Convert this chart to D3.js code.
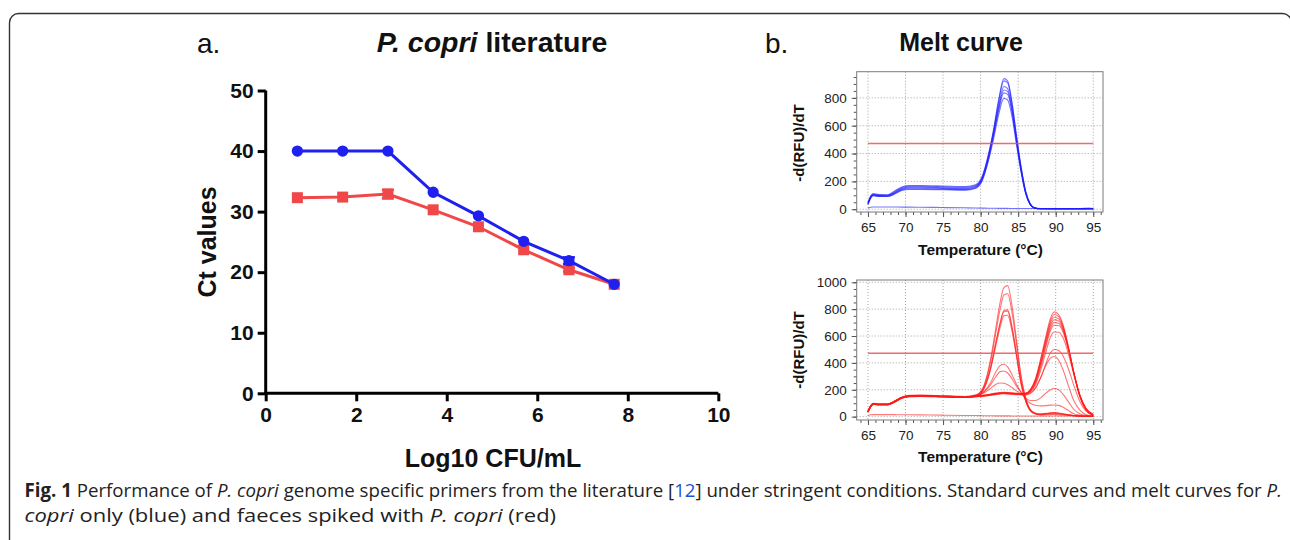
<!DOCTYPE html>
<html><head><meta charset="utf-8">
<script src="https://cdn.jsdelivr.net/npm/d3@7"></script>
<style>
html,body{margin:0;padding:0;background:#fff;}
svg{display:block;}
</style></head>
<body>
<svg id="chart" width="1290" height="540"></svg>
<script>
// ---------- Panel a data ----------
const logCFU = [0.7, 1.7, 2.7, 3.7, 4.7, 5.7, 6.7, 7.7];
const ctBlue = [40, 40, 40, 33.2, 29.3, 25.1, 21.9, 18.0];
const ctRed  = [32.3, 32.4, 32.9, 30.3, 27.5, 23.7, 20.4, 18.0];
const errBlue = [0, 0, 0, 0, 0, 0, 0.55, 0];
const errRed  = [0, 0, 0.7, 0, 0, 0, 0.3, 0];
const xTicksA = [0, 2, 4, 6, 8, 10];
const yTicksA = [0, 10, 20, 30, 40, 50];

// ---------- Panel b data (melt curves) ----------
const tempBlue = [65, 65.4, 65.7, 66.5, 67.6, 68.5, 69.5, 70.5, 72, 75, 78, 79.3, 80.2, 81, 81.7, 82.4, 83.1, 83.6, 84.2, 84.8, 85.4, 86, 86.6, 87.2, 88, 90, 93, 94.5, 95];
const meltBlue1 = [48, 98, 112, 105, 104, 130, 160, 170, 170, 167, 163, 175, 235, 385, 565, 785, 938, 922, 762, 522, 302, 132, 41, 10, 4, 3, 3, 4, 3];
const meltBlue2 = [44, 94, 108, 101, 100, 124, 154, 164, 164, 161, 157, 168, 228, 377, 557, 772, 922, 907, 752, 512, 297, 127, 39, 9, 4, 3, 3, 4, 3];
const meltBlue3 = [41, 91, 105, 98, 97, 118, 148, 158, 158, 155, 151, 163, 221, 366, 541, 742, 882, 867, 722, 497, 286, 121, 36, 9, 3, 3, 3, 3, 3];
const meltBlue4 = [38, 88, 102, 96, 95, 114, 143, 152, 152, 149, 146, 158, 215, 360, 530, 725, 857, 846, 706, 486, 280, 118, 35, 8, 3, 3, 3, 3, 3];
const meltBlue5 = [35, 85, 99, 93, 93, 110, 138, 147, 147, 144, 141, 153, 209, 349, 519, 709, 836, 825, 690, 475, 272, 115, 34, 8, 3, 2, 2, 3, 2];
const meltBlue6 = [33, 83, 97, 91, 91, 107, 134, 142, 142, 140, 137, 149, 203, 338, 498, 678, 796, 785, 660, 455, 262, 110, 32, 8, 3, 2, 2, 3, 2];
const meltBlueNTC = [8, 14, 16, 16, 16, 16, 15, 15, 14, 12, 10, 9, 8, 7, 7, 6, 6, 6, 5, 5, 5, 5, 5, 5, 5, 5, 5, 9, 4];
const blueCurves = [meltBlue1, meltBlue2, meltBlue3, meltBlue4, meltBlue5, meltBlue6, meltBlueNTC];

const tempRed = [65, 65.4, 65.7, 66.5, 67.6, 68.5, 69.5, 70.5, 72, 75, 78, 79.5, 80.5, 81.3, 82, 82.6, 83.1, 83.6, 84.2, 84.8, 85.4, 86, 86.6, 87.3, 88, 88.7, 89.3, 89.8, 90.4, 91, 91.7, 92.4, 93.2, 94, 95];
const meltRed1 = [40, 85, 100, 95, 95, 115, 145, 158, 160, 155, 150, 165, 240, 420, 650, 850, 960, 975, 820, 560, 300, 140, 55, 25, 20, 22, 25, 25, 22, 18, 12, 8, 5, 3, 2];
const meltRed2 = [38, 82, 97, 92, 92, 112, 142, 155, 157, 152, 148, 162, 232, 400, 615, 800, 905, 915, 770, 530, 285, 135, 52, 25, 20, 24, 28, 30, 27, 22, 15, 9, 5, 3, 2];
const meltRed3 = [37, 80, 95, 90, 90, 110, 140, 153, 155, 150, 146, 158, 220, 360, 545, 700, 790, 795, 665, 460, 250, 120, 48, 22, 18, 22, 26, 28, 25, 20, 13, 8, 5, 3, 2];
const meltRed4 = [35, 78, 93, 88, 88, 108, 138, 150, 153, 149, 145, 156, 218, 355, 540, 690, 780, 785, 655, 455, 248, 118, 46, 20, 15, 18, 20, 22, 20, 16, 11, 7, 4, 3, 2];
const meltRed5 = [35, 78, 92, 87, 87, 106, 136, 148, 151, 147, 143, 154, 212, 345, 520, 665, 750, 755, 630, 440, 240, 115, 44, 19, 13, 14, 15, 16, 14, 12, 9, 6, 4, 3, 2];
const meltRed6 = [36, 80, 94, 90, 90, 110, 140, 152, 154, 150, 147, 158, 190, 250, 330, 380, 390, 370, 310, 240, 180, 130, 100, 85, 80, 82, 86, 87, 84, 70, 45, 22, 10, 4, 2];
const meltRed7 = [36, 80, 94, 90, 90, 110, 140, 152, 154, 150, 147, 157, 185, 235, 295, 335, 340, 325, 280, 225, 180, 140, 120, 120, 140, 175, 200, 210, 200, 165, 110, 55, 22, 8, 2];
const meltRed8 = [36, 80, 94, 90, 90, 110, 140, 152, 154, 150, 147, 156, 178, 210, 240, 250, 248, 238, 215, 190, 172, 165, 175, 215, 290, 380, 435, 448, 420, 345, 230, 120, 50, 15, 3];
const meltRed9  = [40, 85, 98, 94, 94, 115, 145, 157, 158, 154, 150, 155, 160, 168, 175, 180, 182, 180, 177, 175, 172, 175, 200, 280, 430, 600, 730, 780, 760, 680, 520, 330, 150, 50, 8];
const meltRed10 = [38, 83, 97, 93, 93, 113, 143, 155, 157, 153, 149, 154, 159, 166, 173, 178, 180, 178, 175, 172, 170, 173, 198, 275, 420, 585, 712, 760, 745, 670, 515, 330, 155, 55, 10];
const meltRed11 = [37, 82, 96, 92, 92, 112, 142, 154, 156, 152, 148, 153, 158, 165, 172, 176, 178, 176, 173, 171, 169, 172, 195, 270, 410, 570, 695, 740, 728, 660, 510, 330, 158, 58, 12];
const meltRed12 = [36, 80, 95, 91, 91, 111, 141, 153, 155, 151, 147, 152, 157, 164, 170, 175, 176, 175, 172, 170, 168, 170, 192, 262, 398, 555, 676, 720, 712, 650, 505, 330, 160, 60, 14];
const meltRed13 = [35, 79, 94, 90, 90, 110, 140, 152, 154, 150, 146, 151, 156, 163, 169, 173, 175, 173, 171, 169, 167, 169, 190, 255, 385, 540, 658, 700, 695, 640, 500, 330, 162, 62, 15];
const meltRed14 = [35, 78, 93, 89, 89, 109, 139, 151, 153, 149, 145, 150, 155, 162, 168, 172, 174, 172, 170, 168, 166, 168, 186, 248, 372, 522, 640, 680, 678, 628, 495, 330, 165, 65, 16];
const meltRed15 = [34, 77, 92, 88, 88, 108, 138, 150, 152, 148, 144, 149, 154, 160, 166, 170, 172, 170, 168, 166, 165, 166, 182, 235, 345, 483, 592, 630, 628, 585, 465, 315, 160, 62, 15];
const meltRed16 = [34, 76, 91, 87, 87, 107, 137, 149, 151, 147, 143, 148, 153, 159, 164, 168, 170, 168, 166, 164, 162, 162, 172, 210, 290, 395, 475, 500, 492, 450, 355, 235, 115, 42, 10];
const meltRedNTC = [10, 14, 15, 15, 15, 15, 14, 14, 13, 11, 9, 8, 7, 7, 6, 6, 6, 6, 5, 5, 5, 5, 5, 5, 5, 5, 5, 5, 5, 5, 5, 5, 5, 5, 5];
const redCurves = [meltRed1, meltRed2, meltRed3, meltRed4, meltRed5, meltRed6, meltRed7, meltRed8, meltRed9, meltRed10, meltRed11, meltRed12, meltRed13, meltRed14, meltRed15, meltRed16, meltRedNTC];

const meltThreshold = [472];
const tempTicks = [65, 70, 75, 80, 85, 90, 95];
const rfuTicksTop = [0, 200, 400, 600, 800];
const rfuTicksBottom = [0, 200, 400, 600, 800, 1000];

// ---------- Drawing ----------
const svg = d3.select("#chart");
const BOLD = "'Liberation Sans', Arial, sans-serif";
const BLUE = "#1f1fef", RED = "#f04848";

svg.append("rect").attr("x", 9.5).attr("y", 13.5).attr("width", 1282).attr("height", 560)
  .attr("rx", 9).attr("fill", "none").attr("stroke", "#333").attr("stroke-width", 1.4);

// ===== Panel a =====
const xA = d3.scaleLinear().domain([0, 10]).range([265.7, 718.3]);
const yA = d3.scaleLinear().domain([0, 50]).range([393.3, 90.5]);

const gA = svg.append("g");
const axXA = gA.append("g").attr("transform", `translate(0,${yA(0)})`)
  .call(d3.axisBottom(xA).tickValues(xTicksA).tickSize(8).tickPadding(6).tickSizeOuter(0));
const axYA = gA.append("g").attr("transform", `translate(${xA(0)},0)`)
  .call(d3.axisLeft(yA).tickValues(yTicksA).tickSize(8).tickPadding(4).tickSizeOuter(0));
[axXA, axYA].forEach(ax => {
  ax.selectAll("path.domain").attr("stroke", "#000").attr("stroke-width", 3);
  ax.selectAll(".tick line").attr("stroke", "#000").attr("stroke-width", 3);
  ax.selectAll(".tick text").attr("fill", "#111").style("font-family", BOLD)
    .style("font-weight", "bold").style("font-size", "21px");
});
axXA.select("path.domain").attr("d", `M${xA(0)-1.5},0H${xA(10)}`);
axYA.select("path.domain").attr("d", `M0,${yA(50)}V${yA(0)+1.5}`);

function drawSeries(vals, errs, color, shape) {
  const pts = logCFU.map((x, i) => ({x, y: vals[i], e: errs[i]}));
  gA.append("path").datum(pts)
    .attr("d", d3.line().x(d => xA(d.x)).y(d => yA(d.y)))
    .attr("fill", "none").attr("stroke", color).attr("stroke-width", 3);
  const eb = gA.append("g").attr("stroke", color).attr("stroke-width", 2.5);
  pts.filter(d => d.e > 0).forEach(d => {
    eb.append("line").attr("x1", xA(d.x)).attr("x2", xA(d.x)).attr("y1", yA(d.y - d.e)).attr("y2", yA(d.y + d.e));
    eb.append("line").attr("x1", xA(d.x) - 6).attr("x2", xA(d.x) + 6).attr("y1", yA(d.y - d.e)).attr("y2", yA(d.y - d.e));
    eb.append("line").attr("x1", xA(d.x) - 6).attr("x2", xA(d.x) + 6).attr("y1", yA(d.y + d.e)).attr("y2", yA(d.y + d.e));
  });
  const sym = d3.symbol().type(shape).size(shape === d3.symbolSquare ? 121 : 100);
  gA.append("g").selectAll("path").data(pts).join("path")
    .attr("transform", d => `translate(${xA(d.x)},${yA(d.y)})`)
    .attr("d", sym).attr("fill", color);
}
drawSeries(ctRed, errRed, RED, d3.symbolSquare);
drawSeries(ctBlue, errBlue, BLUE, d3.symbolCircle);

gA.append("text").attr("x", 207).attr("y", 242).attr("transform", "rotate(-90,207,242)")
  .attr("text-anchor", "middle").attr("dominant-baseline", "central")
  .style("font-family", BOLD).style("font-weight", "bold").style("font-size", "25px").attr("fill", "#111")
  .text("Ct values");
gA.append("text").attr("x", 493).attr("y", 467).attr("text-anchor", "middle")
  .style("font-family", BOLD).style("font-weight", "bold").style("font-size", "25px").attr("fill", "#111")
  .text("Log10 CFU/mL");
const tA = gA.append("text").attr("x", 492).attr("y", 52).attr("text-anchor", "middle")
  .style("font-family", BOLD).style("font-weight", "bold").style("font-size", "28.5px").attr("fill", "#111");
tA.append("tspan").style("font-style", "italic").text("P. copri");
tA.append("tspan").text(" literature");
svg.append("text").attr("x", 197).attr("y", 53).style("font-family", BOLD).style("font-size", "28px").attr("fill", "#111").text("a.");
svg.append("text").attr("x", 765).attr("y", 53).style("font-family", BOLD).style("font-size", "28px").attr("fill", "#111").text("b.");
svg.append("text").attr("x", 961).attr("y", 51).attr("text-anchor", "middle")
  .style("font-family", BOLD).style("font-weight", "bold").style("font-size", "25px").attr("fill", "#111").text("Melt curve");

// ===== Panel b =====
function meltPlot(cfg) {
  const {top, bottom, yDom, yTicks, temps, curves, color, id, xLabY, yLabY} = cfg;
  const left = 856.7, right = 1103;
  const x = d3.scaleLinear().domain([63.5, 96.3]).range([left, right]);
  const y = d3.scaleLinear().domain(yDom).range([bottom, top]);
  const g = svg.append("g");
  g.append("clipPath").attr("id", id).append("rect")
    .attr("x", left).attr("y", top).attr("width", right - left).attr("height", bottom - top);
  g.append("g").selectAll("line").data(tempTicks).join("line")
    .attr("x1", d => x(d)).attr("x2", d => x(d)).attr("y1", top).attr("y2", bottom)
    .attr("stroke", "#9a9a9a").attr("stroke-width", 0.9).attr("stroke-dasharray", "1,2");
  g.append("g").selectAll("line").data(yTicks).join("line")
    .attr("x1", left).attr("x2", right).attr("y1", d => y(d)).attr("y2", d => y(d))
    .attr("stroke", "#9a9a9a").attr("stroke-width", 0.9).attr("stroke-dasharray", "1,2");
  const minorX = d3.range(64, 97, 1);
  const minorY = d3.range(Math.ceil(yDom[0] / 50) * 50, yDom[1], 50);
  const ax = g.append("g").attr("transform", `translate(0,${bottom})`)
    .call(d3.axisBottom(x).tickValues(tempTicks).tickSize(5).tickPadding(5).tickSizeOuter(0));
  const ay = g.append("g").attr("transform", `translate(${left},0)`)
    .call(d3.axisLeft(y).tickValues(yTicks).tickSize(5).tickPadding(5).tickSizeOuter(0).tickFormat(d3.format("d")));
  g.append("g").attr("transform", `translate(0,${bottom})`)
    .call(d3.axisBottom(x).tickValues(minorX).tickSize(3).tickFormat("").tickSizeOuter(0))
    .call(s => s.select("path.domain").remove());
  g.append("g").attr("transform", `translate(${left},0)`)
    .call(d3.axisLeft(y).tickValues(minorY).tickSize(3).tickFormat("").tickSizeOuter(0))
    .call(s => s.select("path.domain").remove());
  g.selectAll(".tick line").attr("stroke", "#555");
  [ax, ay].forEach(a => {
    a.select("path.domain").remove();
    a.selectAll(".tick text").style("font-family", BOLD).style("font-size", "13.5px").attr("fill", "#222");
  });
  g.append("rect").attr("x", left).attr("y", top).attr("width", right - left).attr("height", bottom - top)
    .attr("fill", "none").attr("stroke", "#7a7a7a").attr("stroke-width", 1);
  const line = d3.line().x((d, i) => x(temps[i])).y(d => y(d)).curve(d3.curveMonotoneX);
  const cg = g.append("g").attr("clip-path", `url(#${id})`);
  cg.selectAll("path.curve").data(curves).join("path").attr("class", "curve")
    .attr("d", line).attr("fill", "none").attr("stroke", color)
    .attr("stroke-width", 1.1).attr("stroke-opacity", 0.6);
  cg.selectAll("line.thr").data(meltThreshold).join("line").attr("class", "thr")
    .attr("x1", x(65)).attr("x2", x(95)).attr("y1", d => y(d)).attr("y2", d => y(d))
    .attr("stroke", "#f05050").attr("stroke-width", 1.6).attr("stroke-opacity", 0.85);
  g.append("text").attr("x", 798).attr("y", yLabY).attr("transform", `rotate(-90,798,${yLabY})`)
    .attr("text-anchor", "middle").attr("dominant-baseline", "central")
    .style("font-family", BOLD).style("font-weight", "bold").style("font-size", "15px").attr("fill", "#111")
    .text("-d(RFU)/dT");
  g.append("text").attr("x", 980.5).attr("y", xLabY).attr("text-anchor", "middle")
    .style("font-family", BOLD).style("font-weight", "bold").style("font-size", "15.5px").attr("fill", "#111")
    .text("Temperature (°C)");
}
meltPlot({top: 71.7, bottom: 212, yDom: [-20, 988], yTicks: rfuTicksTop, temps: tempBlue,
  curves: blueCurves, color: "#1a1aff", id: "clipTop", xLabY: 255, yLabY: 143});
meltPlot({top: 280, bottom: 420, yDom: [-25, 1017], yTicks: rfuTicksBottom, temps: tempRed,
  curves: redCurves, color: "#ff1a1a", id: "clipBot", xLabY: 462, yLabY: 350});

// ===== Caption =====
const CAP = "'Open Sans', 'Noto Sans', sans-serif";
function captionLine(parts, y, width) {
  const t = svg.append("text").attr("x", 0).attr("y", 0)
    .style("font-family", CAP).style("font-size", "19px").attr("fill", "#222");
  parts.forEach(p => {
    const s = t.append("tspan").text(p.t);
    if (p.b) s.style("font-weight", "bold");
    if (p.i) s.style("font-style", "italic");
    if (p.c) s.attr("fill", p.c);
  });
  const w = t.node().getComputedTextLength();
  t.attr("transform", `translate(24.5,${y}) scale(${width / w},1)`);
}
captionLine([{t: "Fig. 1", b: 1}, {t: " Performance of "}, {t: "P. copri", i: 1},
  {t: " genome specific primers from the literature ["}, {t: "12", c: "#1e4fd8"},
  {t: "] under stringent conditions. Standard curves and melt curves for "}, {t: "P.", i: 1}], 497, 1258);
captionLine([{t: "copri", i: 1}, {t: " only (blue) and faeces spiked with "}, {t: "P. copri", i: 1}, {t: " (red)"}], 522, 532);
</script>
</body></html>
